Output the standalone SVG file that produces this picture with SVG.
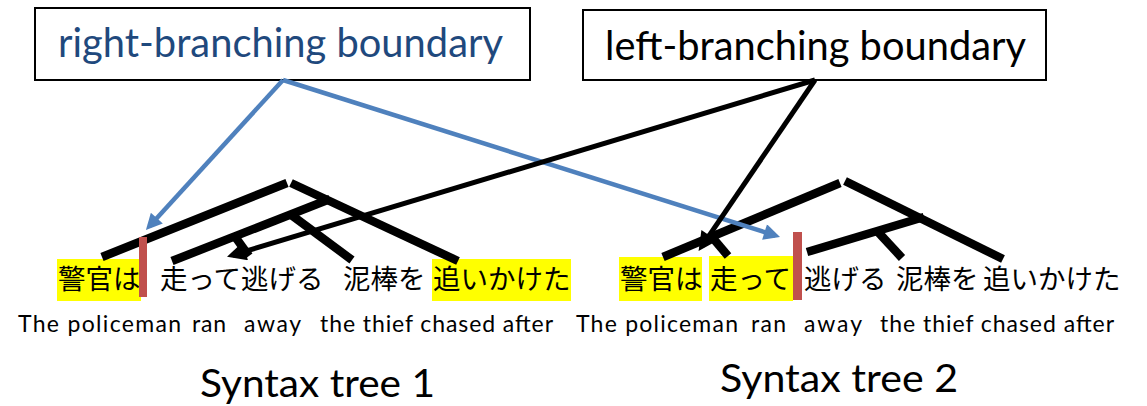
<svg xmlns="http://www.w3.org/2000/svg" width="1147" height="406" viewBox="0 0 1147 406">
<style>
.bg{fill:#ffffff}
.box{fill:#ffffff;stroke:#000000;stroke-width:2}
.boxtxt{font-family:Lato,"Open Sans","Liberation Sans",sans-serif;font-size:41px}
.branch{stroke:#000000;stroke-width:8.5;fill:none}
.hl{fill:#ffff00}
.bar{fill:#c0504d}
.jp{font-family:"Noto Sans CJK JP","Noto Sans",sans-serif;font-size:27.5px;fill:#000000}
.en{font-family:Lato,"Open Sans","Liberation Sans",sans-serif;font-size:23px;fill:#000000}
.cap{font-family:Lato,"Open Sans","Liberation Sans",sans-serif;font-size:38px;fill:#000000}
.blue{stroke:#4f81bd;stroke-width:4.5;fill:none;marker-end:url(#ab)}
.black{stroke:#000000;stroke-width:5;fill:none;marker-end:url(#ak)}
</style>
<defs>
<marker id="ab" viewBox="0 0 10 10" refX="7" refY="5" markerWidth="4" markerHeight="3.6" orient="auto" markerUnits="strokeWidth">
<path d="M0,0 L10,5 L0,10 z" fill="#4f81bd"/>
</marker>
<marker id="ak" viewBox="0 0 10 10" refX="7" refY="5" markerWidth="4.6" markerHeight="3.8" orient="auto" markerUnits="strokeWidth">
<path d="M0,0 L10,5 L0,10 z" fill="#000000"/>
</marker>
</defs>
<rect class="bg" x="0" y="0" width="1147" height="406"/>

<g id="tree1">
<rect class="hl" x="57" y="259" width="84" height="42"/>
<rect class="hl" x="432" y="259" width="139" height="42"/>
<line class="branch" x1="102" y1="257" x2="287" y2="183"/>
<line class="branch" x1="291" y1="183" x2="458" y2="261"/>
<line class="branch" x1="172" y1="261" x2="330" y2="199"/>
<line class="branch" x1="290" y1="214" x2="352" y2="260"/>
<line class="branch" x1="236" y1="238" x2="249" y2="256"/>
<text class="jp" x="58" y="289">警官は</text>
<text class="jp" x="160" y="289">走って逃げる</text>
<text class="jp" x="343" y="289">泥棒を</text>
<text class="jp" x="433" y="289">追いかけた</text>
<rect class="bar" x="139" y="237" width="8" height="60"/>
<text class="en" y="332"><tspan x="18" textLength="163">The policeman</tspan><tspan x="192" textLength="34">ran</tspan><tspan x="244" textLength="57">away</tspan><tspan x="320" textLength="233">the thief chased after</tspan></text>
<text class="cap" x="200" y="397" textLength="235" lengthAdjust="spacingAndGlyphs">Syntax tree 1</text>
</g>

<g id="tree2">
<rect class="hl" x="619" y="257" width="83" height="44"/>
<rect class="hl" x="709" y="256" width="84" height="45"/>
<line class="branch" x1="663" y1="257" x2="840" y2="183"/>
<line class="branch" x1="845" y1="181" x2="1003" y2="259"/>
<line class="branch" x1="807" y1="252" x2="924" y2="217"/>
<line class="branch" x1="878" y1="232" x2="902" y2="258"/>
<line class="branch" x1="712" y1="237" x2="728" y2="256"/>
<text class="jp" x="620" y="289">警官は</text>
<text class="jp" x="710" y="289">走って</text>
<text class="jp" x="804" y="289">逃げる</text>
<text class="jp" x="896" y="289">泥棒を</text>
<text class="jp" x="983" y="289">追いかけた</text>
<rect class="bar" x="793" y="232" width="9" height="68"/>
<text class="en" y="332"><tspan x="576" textLength="162">The policeman</tspan><tspan x="751" textLength="35">ran</tspan><tspan x="804" textLength="58">away</tspan><tspan x="880" textLength="234">the thief chased after</tspan></text>
<text class="cap" x="720" y="392" textLength="238" lengthAdjust="spacingAndGlyphs">Syntax tree 2</text>
</g>

<g id="right-branching-boundary">
<rect class="box" x="35" y="8" width="495" height="72"/>
<text class="boxtxt" x="58" y="57" fill="#1f497d" textLength="445" lengthAdjust="spacingAndGlyphs">right-branching boundary</text>
</g>

<g id="left-branching-boundary">
<rect class="box" x="583" y="10" width="463" height="70"/>
<text class="boxtxt" x="605" y="60" fill="#000000" textLength="421" lengthAdjust="spacingAndGlyphs">left-branching boundary</text>
</g>

<g id="connectors">
<line class="blue" x1="283" y1="80" x2="149.2" y2="226.5"/>
<line class="blue" x1="283" y1="80" x2="775.4" y2="235.5"/>
<line class="black" x1="815" y1="80" x2="232.5" y2="255.1"/>
<line class="black" x1="815" y1="80" x2="701.8" y2="246.4"/>
</g>
</svg>
